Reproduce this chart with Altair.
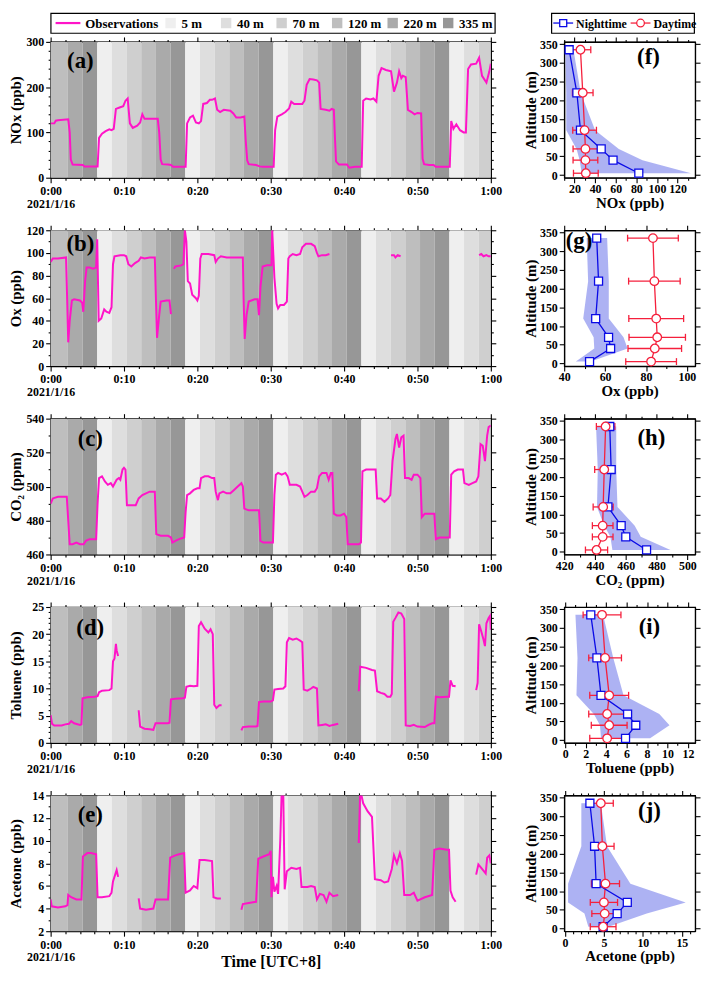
import altair as alt
import pandas as pd

FONT = "Liberation Serif"
MAG = "#ff14c8"
BLUE = "#0a0ae6"
RED = "#f5203c"
SHADE = "#a9aef2"

# ---------------- band schedule (altitude sampled) ----------------
ALT_LABELS = ["5 m", "40 m", "70 m", "120 m", "220 m", "335 m"]
GREYS = ["#efefef", "#dedede", "#cfcfcf", "#bebebe", "#aaaaaa", "#979797"]
BAND_START = [0, 2.35, 4.35, 6.35, 8.35, 10.35, 12.35, 14.35, 16.35, 18.35,
              20.35, 22.35, 24.35, 26.35, 28.35, 30.35, 32.35, 34.35, 36.35, 38.35,
              40.35, 42.35, 44.35, 46.35, 48.35, 50.35, 52.35, 54.35, 56.35, 58.35]
BAND_ALT = ["120 m", "220 m", "335 m", "5 m", "40 m", "70 m",
            "120 m", "220 m", "335 m", "5 m", "40 m", "70 m",
            "120 m", "220 m", "335 m", "5 m", "40 m", "70 m",
            "120 m", "220 m", "335 m", "5 m", "40 m", "70 m",
            "120 m", "220 m", "335 m", "5 m", "40 m", "70 m"]

# ---------------- time series (minutes after 0:00, value); None = gap ----------------
NOX = [(0, 120), (0.5, 120), (0.7, 126), (1.0, 127), (2.4, 129), (2.6, 100), (2.75, 40), (3.0, 29), (4.4, 28), (4.6, 25), (6.4, 25),
       (6.6, 88), (7.0, 97), (7.5, 103), (8.0, 107), (8.3, 105), (8.6, 108), (8.9, 152), (9.4, 155), (9.9, 158), (10.2, 170), (10.5, 175),
       (10.8, 120), (11.2, 110), (11.8, 115), (12.2, 122), (12.5, 140), (12.8, 130), (13.5, 130), (14.6, 130), (14.8, 100), (15.0, 40),
       (15.2, 30), (16.0, 29), (16.4, 28), (16.7, 24), (18.4, 24),
       (18.6, 120), (19.0, 133), (19.4, 137), (19.8, 122), (20.2, 120), (20.5, 125), (20.8, 163), (21.3, 165), (21.7, 172), (22.0, 172),
       (22.4, 175), (22.7, 150), (23.1, 145), (23.6, 150), (24.5, 148), (24.9, 142), (25.3, 133), (25.9, 133), (26.4, 135), (26.6, 80),
       (26.8, 38), (27.0, 30), (28.0, 28), (28.5, 25), (29.0, 24), (30.4, 24),
       (30.6, 105), (30.9, 135), (31.5, 140), (32.0, 145), (32.5, 153), (32.8, 168), (33.2, 163), (34.3, 163), (34.6, 170), (34.9, 205),
       (35.3, 218), (35.8, 217), (36.3, 215), (36.6, 210), (36.8, 152), (37.5, 150), (38.0, 148), (38.3, 152), (38.6, 150), (38.75, 90),
       (38.9, 36), (39.3, 29), (40.4, 29), (40.7, 22), (41.5, 24), (42.4, 24),
       (42.6, 170), (43.0, 175), (43.6, 173), (44.0, 175), (44.4, 168), (44.7, 225), (45.1, 242), (45.7, 238), (46.4, 235), (46.8, 190),
       (47.2, 210), (47.5, 235), (47.8, 220), (48.0, 225), (48.4, 222), (48.7, 150), (49.2, 145), (49.6, 140), (50.0, 143), (50.5, 142),
       (50.7, 42), (50.9, 30), (51.6, 28), (52.2, 28), (52.5, 24), (54.4, 24),
       (54.6, 125), (54.9, 108), (55.3, 118), (55.8, 105), (56.3, 100), (56.6, 100), (56.9, 240), (57.3, 250), (58.0, 252), (58.4, 265),
       (58.8, 225), (59.4, 210), (59.8, 235), (60.0, 252)]

OX = [(0, 92), (0.3, 95), (1.0, 95), (2.1, 96), (2.25, 60), (2.4, 21), (2.6, 40), (2.9, 58), (3.2, 59), (4.0, 58), (4.3, 56), (4.45, 48),
      (4.7, 75), (4.9, 87), (5.3, 87), (5.8, 86), (6.2, 87), (6.35, 112), (6.55, 40), (6.9, 42), (7.3, 50), (7.6, 48), (8.0, 47), (8.3, 52),
      (8.5, 90), (8.7, 97), (9.5, 98), (10.0, 98), (10.3, 97), (10.6, 90), (11.0, 88), (11.5, 91), (12.0, 93), (12.3, 96), (12.8, 95),
      (13.5, 96), (14.2, 96), (14.35, 60), (14.5, 25), (14.8, 45), (15.0, 57), (15.8, 58), (16.2, 58), (16.4, 46),
      None,
      (16.8, 86), (17.0, 88), (17.8, 89), (18.1, 90), (18.3, 120), (18.5, 110), (18.7, 75), (19.0, 73), (19.3, 63), (19.8, 60), (20.0, 58),
      (20.2, 62), (20.4, 95), (20.6, 99), (21.5, 99), (22.3, 98), (22.5, 92), (22.8, 95), (23.2, 97), (24.0, 96), (25.0, 96), (26.2, 96),
      (26.3, 60), (26.45, 24), (26.7, 45), (27.0, 57), (27.8, 59), (28.2, 59), (28.4, 45), (28.6, 70), (28.9, 88), (29.5, 89), (30.1, 89),
      (30.2, 120), (30.5, 78), (30.8, 55), (31.0, 51), (31.3, 54), (31.8, 54), (32.2, 57), (32.4, 95), (32.6, 97), (33.0, 99), (33.5, 98),
      (34.0, 99), (34.3, 105), (34.8, 108), (35.5, 108), (36.0, 106), (36.3, 100), (36.5, 97), (37.0, 98), (37.5, 98), (38.0, 99),
      None,
      (46.4, 98), (46.8, 98), (47.0, 96), (47.3, 98), (47.7, 97),
      None,
      (58.4, 98), (58.7, 99), (59.0, 97), (59.4, 98), (59.7, 97), (60.0, 97)]

CO2 = [(0, 490), (0.3, 493), (1.0, 494), (2.2, 494), (2.4, 480), (2.6, 466), (3.0, 466), (3.5, 467), (4.0, 466), (4.5, 466), (4.8, 468),
       (5.3, 469), (5.8, 469), (6.2, 469), (6.4, 490), (6.6, 505), (7.0, 506), (7.4, 503), (7.8, 501), (8.2, 502), (8.5, 500), (9.0, 504),
       (9.3, 505), (9.5, 504), (9.8, 510), (10.0, 511), (10.2, 510), (10.4, 489), (11.0, 489), (11.6, 489), (12.0, 493), (12.5, 495),
       (13.0, 496), (13.5, 497), (14.2, 497), (14.4, 472), (15.0, 471), (16.0, 471), (16.4, 470), (16.6, 467), (17.0, 468), (17.5, 469),
       (18.2, 470), (18.4, 485), (18.6, 495), (19.0, 496), (19.5, 498), (20.0, 499), (20.3, 499), (20.5, 505), (21.0, 506), (21.5, 506),
       (22.0, 505), (22.3, 505), (22.5, 497), (22.8, 492), (23.0, 496), (23.5, 497), (24.0, 496), (24.5, 496), (25.0, 498), (25.5, 500),
       (26.0, 502), (26.2, 500), (26.4, 487), (27.0, 486), (28.0, 486), (28.4, 486), (28.6, 468), (29.0, 467), (30.0, 467), (30.3, 467),
       (30.5, 495), (30.7, 507), (31.0, 508), (31.5, 507), (32.0, 508), (32.3, 506), (32.6, 501), (33.5, 501), (34.0, 500), (34.3, 497),
       (34.6, 494), (35.0, 495), (35.5, 497), (36.0, 497), (36.3, 499), (36.6, 506), (37.0, 508), (37.6, 508), (37.9, 504), (38.2, 508),
       (38.4, 508), (38.6, 484), (39.0, 483), (39.5, 483), (40.0, 484), (40.3, 482), (40.5, 466), (41.0, 466), (42.0, 466), (42.3, 467),
       (42.5, 509), (43.0, 510), (44.0, 510), (44.3, 510), (44.5, 493), (45.0, 493), (45.5, 491), (46.0, 493), (46.3, 495), (46.6, 515),
       (47.0, 528), (47.2, 531), (47.5, 523), (47.8, 529), (48.1, 530), (48.3, 505), (48.8, 505), (49.2, 504), (49.5, 507), (50.0, 507),
       (50.4, 505), (50.6, 482), (51.0, 484), (52.0, 484), (52.3, 484), (52.5, 469), (53.0, 470), (54.0, 470), (54.4, 470), (54.6, 507),
       (55.0, 509), (55.5, 510), (56.2, 510), (56.4, 502), (57.0, 501), (57.5, 502), (58.0, 503), (58.3, 506), (58.6, 525), (58.9, 524),
       (59.2, 515), (59.5, 530), (59.7, 535), (60.0, 536)]

TOLUENE = [(0, 5.1), (0.2, 3.5), (0.5, 3.2), (1.5, 3.2), (2.0, 3.4), (2.5, 3.5), (2.8, 4.0), (3.2, 3.6), (4.0, 3.3), (4.2, 3.4), (4.35, 8.2),
           (5.0, 8.4), (6.0, 8.5), (6.4, 8.6), (6.6, 9.3), (7.0, 9.6), (8.0, 9.7), (8.3, 10.0), (8.5, 15.0), (8.7, 15.5), (8.9, 18.2),
           (9.0, 17.0), (9.2, 16.0),
           None,
           (12.0, 6.0), (12.2, 3.0), (12.8, 2.6), (13.5, 2.5), (14.0, 2.4), (14.3, 3.6), (15.0, 3.6), (16.0, 3.6), (16.2, 3.7), (16.4, 8.0),
           (17.0, 8.1), (18.0, 8.2), (18.3, 8.3), (18.5, 10.3), (19.0, 10.5), (19.5, 10.4), (20.0, 10.5), (20.2, 21.5), (20.5, 22.2),
           (21.0, 21.0), (21.5, 20.3), (21.8, 20.9), (22.1, 20.0), (22.3, 7.0), (22.6, 6.4), (23.0, 6.9), (23.3, 6.9),
           None,
           (26.0, 2.3), (26.2, 2.9), (27.0, 3.0), (28.0, 3.0), (28.2, 3.1), (28.4, 7.5), (29.0, 7.6), (30.0, 7.6), (30.3, 7.8), (30.5, 9.8),
           (31.0, 9.9), (31.7, 10.0), (32.0, 10.4), (32.2, 18.5), (32.5, 19.3), (33.0, 19.0), (33.5, 19.2), (34.0, 18.8), (34.3, 18.5),
           (34.5, 9.8), (35.0, 9.6), (35.5, 10.0), (35.8, 10.3), (36.3, 10.0), (36.5, 3.2), (37.0, 3.3), (37.5, 3.4), (38.0, 3.1),
           (38.5, 3.3), (39.2, 3.5),
           None,
           (42.0, 9.5), (42.2, 14.0), (43.0, 13.8), (43.8, 13.4), (44.2, 13.3), (44.5, 9.5), (45.0, 9.2), (45.5, 9.0), (45.9, 8.5),
           (46.3, 8.5), (46.5, 9.0), (46.7, 22.3), (47.0, 23.0), (47.4, 24.0), (47.8, 23.8), (48.2, 22.8), (48.4, 3.2), (49.0, 3.1),
           (49.5, 3.3), (50.0, 3.0), (51.0, 2.9), (51.5, 3.3), (52.0, 3.6), (52.3, 3.6), (52.5, 8.5), (53.0, 8.4), (54.0, 8.5), (54.3, 8.5),
           (54.5, 11.5), (54.8, 10.5), (55.2, 10.4),
           None,
           (58.0, 9.7), (58.2, 11.0), (58.4, 21.8), (58.7, 20.5), (59.0, 19.0), (59.2, 17.8), (59.4, 22.0), (59.7, 23.0), (59.9, 23.4),
           (60.0, 20.8)]

ACETONE = [(0, 4.8), (0.15, 4.2), (1.0, 4.1), (2.0, 4.2), (2.3, 4.3), (2.4, 5.2), (2.8, 5.0), (3.5, 4.8), (4.2, 4.8), (4.4, 8.6), (5.0, 8.9),
           (5.5, 8.9), (6.2, 8.8), (6.4, 5.0), (7.0, 5.0), (8.0, 5.1), (8.3, 5.4), (8.5, 6.4), (8.8, 7.0), (9.0, 7.4), (9.2, 6.8),
           None,
           (12.0, 4.9), (12.2, 4.0), (13.0, 3.9), (14.0, 4.0), (14.3, 4.8), (15.0, 4.8), (16.0, 4.8), (16.3, 8.5), (17.0, 8.7), (17.5, 8.8),
           (18.2, 8.9), (18.4, 5.4), (19.0, 5.6), (19.5, 6.0), (20.0, 5.8), (20.3, 8.3), (21.0, 8.3), (22.0, 8.2), (22.2, 5.0), (22.7, 4.9),
           (23.2, 4.9),
           None,
           (26.0, 3.9), (26.2, 4.4), (27.0, 4.5), (28.0, 4.6), (28.3, 8.4), (29.0, 8.6), (29.8, 8.8), (30.0, 9.1), (30.1, 5.0), (30.3, 6.8),
           (30.5, 5.5), (30.8, 6.0), (31.0, 5.3), (31.3, 10.0), (31.5, 14.5), (31.7, 14.5), (31.9, 5.7), (32.2, 7.3), (32.8, 7.6),
           (33.5, 7.5), (34.0, 7.6), (34.2, 5.9), (35.0, 5.9), (35.5, 6.0), (36.0, 5.9), (36.3, 4.8), (36.7, 5.3), (37.2, 5.2), (37.6, 4.6),
           (38.0, 5.4), (38.5, 5.1), (39.2, 5.2),
           None,
           (42.0, 9.8), (42.2, 14.5), (42.6, 13.3), (43.2, 12.6), (43.8, 12.1), (44.2, 6.6), (45.0, 6.5), (45.5, 6.3), (46.0, 6.4),
           (46.5, 7.5), (46.8, 8.7), (47.2, 8.0), (47.6, 8.9), (47.9, 8.2), (48.2, 5.2), (49.0, 5.2), (49.5, 5.4), (50.0, 4.7), (51.0, 5.0),
           (52.0, 5.2), (52.3, 9.2), (53.0, 9.3), (54.0, 9.2), (54.3, 9.2), (54.5, 5.6), (54.8, 5.0), (55.2, 4.6),
           None,
           (58.0, 7.0), (58.3, 7.9), (58.8, 7.5), (59.3, 7.1), (59.5, 8.5), (59.8, 8.7), (60.0, 8.0)]

# ---------------- vertical profiles ----------------
ALTS = [5, 40, 70, 120, 220, 335]
NOX_NIGHT = [82.4, 57.4, 45.9, 25.8, 22.3, 14.8]
NOX_NIGHT_MIN = [27, 25, 22, 12, 12, 11]
NOX_NIGHT_MAX = [133, 86, 63, 40, 26, 19]
NOX_DAY = [31, 30.6, 30.6, 29.8, 28, 25.8]
NOX_DAY_SD = [12, 12, 12, 11.5, 10, 10]

OX_NIGHT = [52.4, 62.7, 61.7, 55.4, 56.8, 55.9]
OX_NIGHT_MIN = [45.7, 54.7, 54.4, 49.3, 51.7, 51]
OX_NIGHT_MAX = [53, 71, 69, 61.8, 61.8, 61]
OX_DAY = [82.5, 84.3, 85.5, 85.0, 84.1, 83.4]
OX_DAY_SD = [12.4, 13.1, 13.8, 13.4, 12.6, 12.4]

CO2_NIGHT = [473.5, 460, 457, 448.4, 450.5, 449.6]
CO2_NIGHT_MIN = [451.3, 450, 446, 441.3, 441.8, 440.7]
CO2_NIGHT_MAX = [489, 469.7, 465.8, 454.6, 453.8, 453.8]
CO2_DAY = [441, 445, 445, 445.3, 446, 446.9]
CO2_DAY_SD = [7.2, 6.7, 6.7, 6.5, 6.2, 6.0]

TOL_NIGHT = [5.9, 6.9, 6.1, 3.5, 3.1, 2.5]
TOL_NIGHT_MIN = [3.5, 3.4, 2.8, 1.1, 1.2, 1.0]
TOL_NIGHT_MAX = [8.3, 10.2, 9.2, 5.7, 4.7, 3.7]
TOL_DAY = [4.1, 4.3, 4.1, 4.3, 3.9, 3.6]
TOL_DAY_SD = [1.7, 1.75, 1.8, 1.9, 1.6, 1.85]

ACE_NIGHT = [4.9, 6.7, 8.0, 4.0, 3.8, 3.2]
ACE_NIGHT_MIN = [3.0, 2.5, 0.4, 0.4, 2.1, 2.1]
ACE_NIGHT_MAX = [5.6, 10.5, 15.5, 8.4, 5.4, 4.6]
ACE_DAY = [4.9, 5.1, 5.0, 5.2, 4.8, 4.6]
ACE_DAY_SD = [1.65, 1.65, 1.75, 1.8, 1.5, 1.6]

W_L, W_R, H = 444, 132, 137


def obs_df(pairs):
    rows, seg = [], 0
    for p in pairs:
        if p is None:
            seg += 1
            continue
        rows.append({"t": p[0], "v": p[1], "seg": seg})
    return pd.DataFrame(rows)


def bands_df():
    ends = BAND_START[1:] + [60]
    return pd.DataFrame({"start": BAND_START, "end": ends, "alt": BAND_ALT})


def tcond(test):
    return {"condition": {"test": test, "value": 5}, "value": 2.5}


def tag_layer(tag, x, y):
    return alt.Chart(pd.DataFrame({"tag": [tag]})).mark_text(
        font=FONT, fontWeight="bold", fontSize=23, align="center", baseline="middle", color="black"
    ).encode(text="tag:N", x=alt.value(x), y=alt.value(y))


def left_panel(pairs, ytitle, ydom, ystep, ymaj, tag, tx, ty, last=False):
    xs = alt.Scale(domain=[0, 60], nice=False, zero=False)
    ys = alt.Scale(domain=ydom, nice=False, zero=False)
    xvals = list(range(0, 61, 2))
    n = int(round((ydom[1] - ydom[0]) / ystep))
    yvals = [ydom[0] + i * ystep for i in range(n + 1)]
    xtest = "datum.value % 10 === 0"
    ytest = f"datum.value % {ymaj} === 0"
    xlab = ("datum.value % 10 !== 0 ? '' : (datum.value === 0 ? ['0:00', '2021/1/16'] : "
            "(datum.value === 60 ? '1:00' : '0:' + datum.value))")
    bkw = dict(orient="bottom", values=xvals, labelExpr=xlab, tickSize=tcond(xtest),
               labelLineHeight=13, labelPadding=3, labelFlush=False, labelOverlap=False)
    if last:
        bkw.update(title="Time [UTC+8]", titleY=23, titleBaseline="top", titleFontSize=16)
    else:
        bkw.update(title=None)
    x_bottom = alt.Axis(**bkw)
    x_top = alt.Axis(orient="top", values=xvals, labels=False, tickSize=tcond(xtest), title=None, minExtent=0)
    y_left = alt.Axis(orient="left", values=yvals, labelExpr=f"({ytest}) ? datum.label : ''",
                      tickSize=tcond(ytest), title=ytitle, minExtent=26, maxExtent=26,
                      titlePadding=1, labelPadding=2, labelOverlap=False)
    y_right = alt.Axis(orient="right", values=yvals, labels=False, tickSize=tcond(ytest), title=None, minExtent=0)

    bands = alt.Chart(bands_df()).transform_calculate(
        y0=str(ydom[0]), y1=str(ydom[1])
    ).mark_rect().encode(
        x=alt.X("start:Q", scale=xs, axis=x_bottom),
        x2="end:Q",
        y=alt.Y("y0:Q", scale=ys, axis=y_right),
        y2="y1:Q",
        color=alt.Color("alt:N", scale=alt.Scale(domain=ALT_LABELS, range=GREYS), legend=None),
    )
    line = alt.Chart(obs_df(pairs)).mark_line(color=MAG, strokeWidth=2, clip=True).encode(
        x=alt.X("t:Q", scale=xs, axis=x_top),
        y=alt.Y("v:Q", scale=ys, axis=y_left),
        detail="seg:N",
    )
    return alt.layer(bands, line, tag_layer(tag, tx, ty)).resolve_axis(
        x="independent", y="independent"
    ).properties(width=W_L, height=H)


def right_panel(night, nmin, nmax, day, dsd, xdom, xvals, xmaj, xtitle, tag, tx, ty):
    df = pd.DataFrame({"alt": ALTS, "nm": night, "nmin": nmin, "nmax": nmax, "dm": day, "dsd": dsd})
    df["dlo"] = df["dm"] - df["dsd"]
    df["dhi"] = df["dm"] + df["dsd"]
    xs = alt.Scale(domain=xdom, nice=False, zero=False)
    ys = alt.Scale(domain=[-7, 356], nice=False, zero=False)
    xtest = f"abs(datum.value % {xmaj}) < 1e-6"
    yvals = [0, 50, 100, 150, 200, 250, 300, 350]
    x_bottom = alt.Axis(orient="bottom", values=xvals, labelExpr=f"({xtest}) ? datum.label : ''",
                        tickSize=tcond(xtest), title=xtitle, labelPadding=1, titlePadding=1,
                        labelFlush=False, labelOverlap=False)
    x_top = alt.Axis(orient="top", values=xvals, labels=False, tickSize=tcond(xtest), title=None, minExtent=0)
    y_left = alt.Axis(orient="left", values=yvals, tickSize=5, title="Altitude (m)", minExtent=25, maxExtent=25,
                      titlePadding=1, labelPadding=2, labelOverlap=False)
    y_right = alt.Axis(orient="right", values=yvals, labels=False, tickSize=5, title=None, minExtent=0)

    base = alt.Chart(df)
    area = base.mark_area(orient="horizontal", color=SHADE, opacity=0.95).encode(
        x=alt.X("nmin:Q", scale=xs, axis=x_bottom), x2="nmax:Q",
        y=alt.Y("alt:Q", scale=ys, axis=y_left),
    )
    nline = base.mark_line(color=BLUE, strokeWidth=1.3).encode(
        x=alt.X("nm:Q", scale=xs, axis=x_top),
        y=alt.Y("alt:Q", scale=ys, axis=y_right),
        order="alt:Q",
    )
    npts = base.mark_point(shape="square", size=65, filled=True, fill="white", stroke=BLUE,
                           strokeWidth=1.3, opacity=1).encode(
        x=alt.X("nm:Q", scale=xs, axis=None), y=alt.Y("alt:Q", scale=ys, axis=None)
    )
    dline = base.mark_line(color=RED, strokeWidth=1.3).encode(
        x=alt.X("dm:Q", scale=xs, axis=None), y=alt.Y("alt:Q", scale=ys, axis=None), order="alt:Q"
    )
    derr = base.mark_rule(color=RED, strokeWidth=1.3).encode(
        x=alt.X("dlo:Q", scale=xs, axis=None), x2="dhi:Q", y=alt.Y("alt:Q", scale=ys, axis=None)
    )
    dcaps = base.transform_fold(["dlo", "dhi"], as_=["k", "xv"]).mark_tick(
        orient="vertical", color=RED, size=7, thickness=1.3, opacity=1
    ).encode(x=alt.X("xv:Q", scale=xs, axis=None), y=alt.Y("alt:Q", scale=ys, axis=None))
    dpts = base.mark_point(shape="circle", size=75, filled=True, fill="white", stroke=RED,
                           strokeWidth=1.3, opacity=1).encode(
        x=alt.X("dm:Q", scale=xs, axis=None), y=alt.Y("alt:Q", scale=ys, axis=None)
    )
    return alt.layer(area, derr, dcaps, dline, nline, npts, dpts, tag_layer(tag, tx, ty)).resolve_axis(
        x="independent", y="independent"
    ).properties(width=W_R, height=H)


# ---------------- legends (marks placed from the band start of each item) ----------------
LEG1_DOMAIN = ["Observations", "_gap"] + ALT_LABELS
leg1_df = pd.DataFrame({"label": ["Observations"] + ALT_LABELS})
xleg1 = alt.X("label:N", scale=alt.Scale(type="band", domain=LEG1_DOMAIN, paddingInner=0, paddingOuter=0),
              axis=None, bandPosition=0)
lb1 = alt.Chart(leg1_df).encode(x=xleg1)
obs_sym = lb1.transform_filter("datum.label === 'Observations'").mark_point(
    shape="M-1,0H1", size=625, filled=False, stroke=MAG, strokeWidth=2.2, opacity=1, xOffset=17.5
).encode(y=alt.value(10))
obs_txt = lb1.transform_filter("datum.label === 'Observations'").mark_text(
    align="left", baseline="middle", font=FONT, fontWeight="bold", fontSize=13, xOffset=35, color="black"
).encode(y=alt.value(10.5), text="label:N")
sw = lb1.transform_filter("datum.label !== 'Observations'").mark_square(size=110, opacity=1, xOffset=9).encode(
    y=alt.value(10),
    color=alt.Color("label:N", scale=alt.Scale(domain=ALT_LABELS, range=GREYS), legend=None),
)
sw_txt = lb1.transform_filter("datum.label !== 'Observations'").mark_text(
    align="left", baseline="middle", font=FONT, fontWeight="bold", fontSize=13, xOffset=20, color="black"
).encode(y=alt.value(10.5), text="label:N")
legend1 = alt.layer(obs_sym, obs_txt, sw, sw_txt).properties(width=448, height=20)

LEG2_DOMAIN = ["Nighttime", "Daytime"]
leg2_df = pd.DataFrame({"label": LEG2_DOMAIN})
xleg2 = alt.X("label:N", scale=alt.Scale(type="band", domain=LEG2_DOMAIN, paddingInner=0, paddingOuter=0),
              axis=None, bandPosition=0)
lb2 = alt.Chart(leg2_df).encode(x=xleg2)
col2 = alt.Stroke("label:N", scale=alt.Scale(domain=LEG2_DOMAIN, range=[BLUE, RED]), legend=None)
night = lb2.transform_filter("datum.label === 'Nighttime'")
day = lb2.transform_filter("datum.label === 'Daytime'")
n_line = night.mark_point(shape="M-1,0H1", size=400, filled=False, strokeWidth=1.3, opacity=1, xOffset=12).encode(
    y=alt.value(10), stroke=col2)
n_sym = night.mark_point(shape="square", size=50, filled=True, fill="white", strokeWidth=1.3, opacity=1,
                         xOffset=12).encode(y=alt.value(10), stroke=col2)
n_txt = night.mark_text(align="left", baseline="middle", font=FONT, fontWeight="bold", fontSize=12,
                        xOffset=25, color="black").encode(y=alt.value(10.5), text="label:N")
d_line = day.mark_point(shape="M-1,0H1", size=400, filled=False, strokeWidth=1.3, opacity=1, xOffset=18).encode(
    y=alt.value(10), stroke=col2)
d_sym = day.mark_point(shape="circle", size=60, filled=True, fill="white", strokeWidth=1.3, opacity=1,
                       xOffset=18).encode(y=alt.value(10), stroke=col2)
d_txt = day.mark_text(align="left", baseline="middle", font=FONT, fontWeight="bold", fontSize=12,
                      xOffset=31, color="black").encode(y=alt.value(10.5), text="label:N")
legend2 = alt.layer(n_line, n_sym, n_txt, d_line, d_sym, d_txt).properties(width=144, height=20)

legend_row = alt.hconcat(legend1, legend2, spacing=54)

# ---------------- panels ----------------
SP = 20
rows = [
    alt.hconcat(
        left_panel(NOX, "NOx (ppb)", [0, 300], 20, 100, "(a)", 30, 19),
        right_panel(NOX_NIGHT, NOX_NIGHT_MIN, NOX_NIGHT_MAX, NOX_DAY, NOX_DAY_SD, [10, 137],
                    list(range(10, 131, 10)), 20, "NOx (ppb)", "(f)", 85, 15),
        spacing=SP),
    alt.hconcat(
        left_panel(OX, "Ox (ppb)", [0, 120], 10, 20, "(b)", 30, 14),
        right_panel(OX_NIGHT, OX_NIGHT_MIN, OX_NIGHT_MAX, OX_DAY, OX_DAY_SD, [40, 104],
                    list(range(40, 101, 10)), 20, "Ox (ppb)", "(g)", 15, 11),
        spacing=SP),
    alt.hconcat(
        left_panel(CO2, "CO\u2082 (ppm)", [460, 540], 10, 20, "(c)", 40, 21),
        right_panel(CO2_NIGHT, CO2_NIGHT_MIN, CO2_NIGHT_MAX, CO2_DAY, CO2_DAY_SD, [420, 505],
                    list(range(420, 501, 10)), 20, "CO\u2082 (ppm)", "(h)", 88, 20),
        spacing=SP),
    alt.hconcat(
        left_panel(TOLUENE, "Toluene (ppb)", [0, 25], 1, 5, "(d)", 40, 21),
        right_panel(TOL_NIGHT, TOL_NIGHT_MIN, TOL_NIGHT_MAX, TOL_DAY, TOL_DAY_SD, [-0.1, 12.7],
                    list(range(0, 13, 1)), 2, "Toluene (ppb)", "(i)", 86, 20),
        spacing=SP),
    alt.hconcat(
        left_panel(ACETONE, "Acetone (ppb)", [2, 14], 1, 2, "(e)", 40, 20, last=True),
        right_panel(ACE_NIGHT, ACE_NIGHT_MIN, ACE_NIGHT_MAX, ACE_DAY, ACE_DAY_SD, [-0.1, 16.7],
                    list(range(0, 17, 1)), 5, "Acetone (ppb)", "(j)", 86, 16),
        spacing=SP),
]

chart = alt.vconcat(legend_row, alt.vconcat(*rows, spacing=12), spacing=1).properties(
    padding={"left": 0, "top": 0, "right": 1, "bottom": 1}
).configure(background="white").configure_view(
    stroke="black", strokeWidth=1.2
).configure_axis(
    grid=False, domainColor="black", domainWidth=1.2, tickColor="black", tickWidth=1.1,
    labelFont=FONT, labelFontWeight="bold", labelFontSize=12, labelColor="black",
    titleFont=FONT, titleFontWeight="bold", titleFontSize=15, titleColor="black",
)

chart.save("out.html", embed_options={"renderer": "svg", "actions": False})
